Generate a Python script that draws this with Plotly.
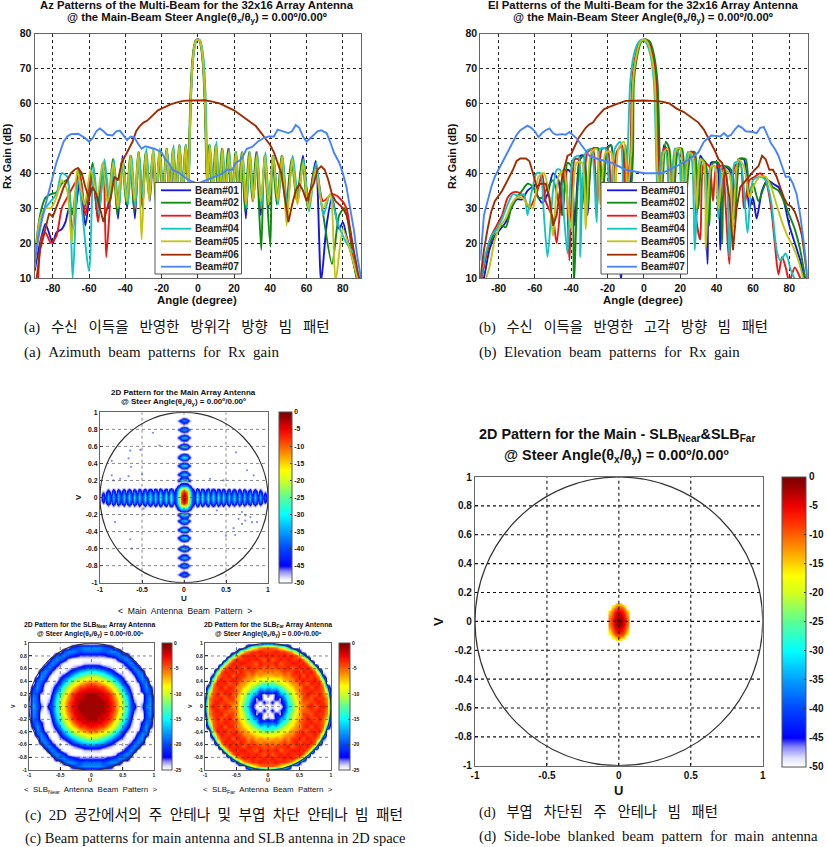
import numpy as np
import plotly.graph_objects as go

W, H = 827, 847

beam_names = ["Beam#01", "Beam#02", "Beam#03", "Beam#04", "Beam#05", "Beam#06", "Beam#07"]
beam_colors = ["#1414e6", "#0c8c0c", "#f01414", "#12c4c4", "#c4c40c", "#a02c00", "#4684ff"]

# Azimuth cuts
az1_x = [-90,-87,-84,-80,-78,-75,-73,-71,-69,-65,-62,-58,-55,-52,-49,-46.5,-44,-41.5,-39,-37,-34.7,-32.5,-30.5,-28.5,-26.5,-24.5,-22.7,-21,-19,-17,-15.2,-13.5,-11.8,-10,-8.3,-6.5,-5.2,-4.5,-4,-3,-2,-1,0,1,2,3,4,4.5,5.2,6.5,8.3,10,11.8,13.5,15.2,17,19,21,22.7,24.5,26.5,28.5,30.5,32.5,34.7,37,39,41.5,44,46.5,49,52,55,58,61,65,68,71,74,78,80,82,86,90]
az1_y = [12,20,25.5,20,23,24,26,30,24,38,25,40,27,42,30,44,27,45,30,45,27,46,30,46,32,46,30,46,33,47,30,47,34,48,32,48,36,50,60,71,76,78,78.3,78,76,71,60,50,36,48,33,48,30,47,34,47,30,46,32,46,27,46,33,46,28,45,30,45,32,45,30,44,33,45,32,43.5,9,25,33,24,26,22,14,5]
az2_x = [-90,-87,-84,-81,-78,-75,-72,-69.4,-65.4,-62.4,-58,-55.4,-52.4,-49.4,-46.9,-44.4,-41.9,-39.4,-37.4,-35.1,-32.9,-30.9,-28.9,-26.9,-24.9,-23.1,-21.4,-19.4,-17.4,-15.6,-13.9,-12.2,-10.4,-8.7,-6.9,-5.4,-4.7,-4.2,-3.2,-2.2,-1.2,-0.2,0.8,1.8,2.8,3.8,4.3,5,6.1,7.9,9.6,11.4,13.1,14.8,16.6,18.6,20.6,22.3,24.1,26.1,28.1,30.1,32.1,35,36.6,40,41.1,43.6,46.1,48.6,51.6,54.6,57.6,60.6,64.6,68.6,74,78,81,86,90]
az2_y = [16,28,33,34,34.5,37,38,28,41,30,43,29,43,31,44,28,44,31,45,29,46,31,46,33,46,31,46,34,47,32,47,33,48,33,48,37,50,60,71,76,78,78.2,78,76,71,60,50,37,48,32,48,31,47,33,47,31,46,33,46,29,46,32,46,18,45,19,45,31,45,30,44,32,44,30,42,30,14,28,30,14,4]
az3_x = [-88,-86,-84,-81,-78,-75,-72,-69,-65,-62,-58,-55,-52,-50.5,-46.6,-44,-41.6,-39,-37,-34.8,-32.6,-30.6,-28.6,-26.6,-24.6,-22.8,-21.1,-19.1,-17.1,-15.3,-13.6,-11.9,-10.1,-8.4,-6.6,-5.1,-4.4,-3.9,-2.9,-1.9,-0.9,0.1,1.1,2.1,3.1,4.1,4.6,5.3,6.6,8.4,10.1,11.9,13.6,15.3,17.1,19.1,21.1,22.8,24.6,26.6,28.6,30.6,32.6,34.8,37.1,39.1,41.6,44.1,46.6,49.1,52.1,55.1,58.1,61.1,65.1,69.1,74,78,82,86,90]
az3_y = [10,22,23,20,22,30,33,36,39,28,40,26,42,16,43,30,44,33,45,30,46,32,46,34,46,33,46,33,47,34,47,33,48,35,48,37,50,60,71,76,78,78.3,78,76,71,60,50,37,48,34,48,33,47,32,47,33,46,31,46,30,46,32,46,30,45,31,45,32,45,30,44,32,43,31,42,32,34,33,30,15,5]
az4_x = [-90,-87,-84,-81,-78,-75,-72,-69,-66,-60,-57.5,-54.5,-51.5,-48.5,-46.4,-43.5,-41.4,-38.5,-36.5,-34.5,-32.4,-30.4,-28.4,-26.4,-24.4,-22.6,-20.9,-18.9,-16.9,-15.1,-13.4,-11.7,-9.9,-8.2,-6.4,-4.9,-4.2,-3.7,-2.7,-1.7,-0.7,0.3,1.3,2.3,3.3,4.3,4.8,5.5,6.8,8.6,10.3,12.1,13.8,15.5,17.3,19.3,21.3,23,24.8,26.8,28.8,30.8,32.8,35,37.3,39.3,41.8,44.3,46.8,49.3,52.3,55.3,58.3,61.3,65.3,69.3,73,77,82,86,90]
az4_y = [14,24,30,32,34,40,39,10,38,12,42,28,44,31,44,30,44,31,45,30,46,33,47,35,47,33,47,34,47,33,48,34,48,35,48,38,52,62,72,76,78,78.2,78,76,72,62,52,38,48,35,49,33,47,34,47,32,46,31,46,30,46,33,46,30,46,32,45,31,45,30,45,33,44,29,43,28,34,26,20,17,6]
az5_x = [-90,-87,-84,-81,-78,-75,-72,-69.5,-66.5,-62.5,-59,-55.5,-52.5,-49.5,-46.7,-44.2,-41.7,-39.2,-37.2,-34.9,-32.7,-31,-28.7,-26.7,-24.7,-22.9,-21.2,-19.2,-17.2,-15.4,-13.7,-12,-10.2,-8.5,-6.7,-5.2,-4.5,-4,-3,-2,-1,0,1,2,3,4,4.5,5.2,6.5,8.3,10,11.8,13.5,15.2,17,19,21,22.7,24.5,26.5,28.5,30.5,32.5,34.7,37,39,41.5,44,46.5,49,52,55,58,61,65,69,73,76,80,85,90]
az5_y = [13,27,30,30,33,38,35,20,41,31,41,33,43,31,43,30,44,32,45,32,46,21,46,32,47,32,47,33,47,32,47,33,48,33,48,36,50,60,71,76,78,78.2,78,76,71,60,50,36,48,33,48,32,47,33,46,33,46,31,46,31,46,32,45,32,45,31,45,32,45,25,44,31,43,30,41,30,34,9,24,16,6]
az6_x = [-90,-87,-85,-82,-80,-78,-76,-74,-72,-70,-68,-66,-64,-62,-60,-58,-56,-54,-52,-50,-48,-46,-44,-42,-40,-38,-36,-34,-32,-30,-28,-26,-24,-22,-20,-18,-15,-12,-8,-4,0,4,8,12,16,20,24,28,32,35,38,40,42,44,46,48,50,52,54,56,58,60,62,64,66,68,70,72,74,76,78,80,82,84,86,88,90]
az6_y = [5,18,22,28.5,27.5,30,33,36,38,40,41,41.5,40,36,33,36,34,30,26,30,33,39,38,43,45,47,49,52,53.5,54.5,55,56,57,58,58.5,59,59.7,60.2,60.7,60.8,60.8,60.9,60.5,60,59,58,56.5,55,53.5,51.5,49.5,48,46,43,40,33,26,31,35,37,35,32,35,37,41,42,41,38,34,32,31,30,28,24,18,12,8]
az7_x = [-90,-88,-86,-84,-82,-80,-78,-76,-74,-72,-70,-66,-62,-60,-58,-56,-54,-52,-50,-47,-45,-43,-41,-39,-37,-35,-33,-31,-29,-27,-24,-20,-18,-16,-14,-10,-5,0,5,10,14,16,19,21,24,27,30,33,36,39,42,44,47,50,52,54,56,58,60,62,64,66,68,71,73,75,78,80,82,84,86,88,90]
az7_y = [14,22,27,31,35,39,43,46,49,50.5,51.2,51.3,50,49,50,52,52.8,52,51,50.8,52,52.2,51,49.5,50.5,50.3,48.5,47,47.7,47.5,47,46,44,43,41,40,38,37,38,39,40,41,41,43,44,47,47.5,49,50,50.5,50.5,52.5,52,51.5,52,53.8,53,50.5,49,50,51,52,52.3,51.5,49,46,43,40,36,30,24,16,10]

# Elevation cuts
el1_x = [-90,-88,-85,-82,-79,-76,-73,-70,-67,-64,-61,-58,-56,-53,-50,-47,-45,-42,-40,-38,-35,-33,-31,-28,-25,-23,-20,-18,-16,-12.5,-10,-8.5,-7,-6,-4,-2,0.5,3,5,7,8.5,9.5,11,13,15,18,20,22,25,27,29,31,33,35,37,40,42,44,47,49,52,55,58,60,62,65,68,71,74,77,80,83,86,90]
el1_y = [6,10,18,22,24,26,30,32.5,32.5,35,36,33,31.5,34,40,38,28,41,40,25,45,45,28,47,47,30,47.5,48,32,9,47,30,45,66,74,77.5,78.3,77.5,74,66,40,30,48,46,28,46,47,30,46,46,28,45,43,14,43,43,18,42,41,25,44,44,30,33,27,35,38,37,36,32,25,20,15,5]
el2_x = [-90,-87,-84,-81,-78,-76,-73,-70,-67,-64,-61,-58,-56,-53,-50,-47,-45,-42,-40,-38.5,-35,-33,-31,-28,-25,-23,-20,-18,-16,-13,-10,-8,-6,-5.5,-3.5,-1.5,1,3.5,5.5,7.5,9,10,12,14,16,19,21,23,26,28,30,32,34,36,38,41,43,45,48,50,53,56,58,60,63,66,68,71,74,77,80,83,86,90]
el2_y = [8,16,21,24,25,24.5,30,33,35,37,36,33,33,36,38,32,28,43,42,8,44,45,30,47,47,33,47,48,26,30,48,30,45,66,74,77.5,78.3,77.5,74,66,40,34,49,47,28,47,47,32,46,46,30,44,43,25,43,43,20,42,41,27,44,44,34,37,32,36,38,36,35,32,28,24,18,6]
el3_x = [-90,-87,-84,-81,-78,-75,-72,-69,-66,-63,-60,-58,-56,-54,-50,-48,-45,-43,-41,-38,-36,-34,-31,-28,-26,-23,-20,-18,-15,-12,-10,-7.5,-6.5,-4.5,-2.5,0,2.5,4.5,6.5,8,9,11,13,15,18,20,22,25,27,29,31,33,36,38,40,43,45,47,50,53,55,58,61,64,67,70,72,74,76,78,80,83,86,90]
el3_y = [8,16,22,25,28,33,34.5,34.5,33,30,33,36,40,32,27,20,36,41,15,44,44,30,46,47,29,47,47,31,46,48,34,45,66,74,77.5,78.3,77.5,74,66,40,32,47,47,30,47,47,30,46,46,26,21,43,42,32,42,42,30,14,42,43,30,38,39,40,38,30,20,11,16,13,9,13,10,3]
el4_x = [-90,-87,-84,-81,-78,-75,-72,-69,-66,-64,-62,-59,-57,-55,-53,-50,-48,-46,-44,-42,-39,-36,-35,-32,-29,-26,-24,-21,-19,-16,-13,-11,-9,-7.5,-5.5,-3,-1,1,3.5,5.5,7,8,10,12,14,17,19,21,24,26,28,31,33,35,37,39,41,43,45,47,50,53,57,60,64,67,70,73,75,78,81,84,87,90]
el4_y = [9,17,22,24,27,31,34,33.5,34,28,34,40,40,28,16,35,41,41,28,17,44,45,16,46,47,26,47,47,24,47,49,28,45,66,74,77.5,78.3,77.5,74,66,40,30,46,46,26,47,46,29,46,45,18,44,43,29,42,42,27,42,41,16,43,43,23,38,39,38,32,18,15,17,12,9,8,3]
el5_x = [-88,-85,-82,-79,-76,-73,-70,-67,-64,-61,-58,-55,-52,-50,-47,-44,-42,-40,-37,-34,-32,-29,-26,-24,-21,-18,-16,-14,-11,-9,-7,-6,-4,-2,0,2,4,6,7.5,9,11,13,15,18,20,22,25,27,29,31,33,34,37,39,41,44,47,48.5,52,55,58,60,64,67,70,73,76,79,82,85,88,90]
el5_y = [8,13,21,25,27,31,33,33,31,30,39,40,33,22,39,41,32,24,43,43,24,46,47,31,46,46,30,47,49,35,46,66,74,77.5,78.3,77.5,74,66,40,33,46,47,30,47,47,32,46,45,30,44,43,18,42,42,30,41,40,22,44,42,33,36,39,39,36,31,26,22,19,15,9,4]
el6_x = [-90,-88,-86,-84,-82,-80,-78,-76,-74,-72,-70,-68,-65,-63,-61,-59,-57,-54,-52,-50,-48,-46,-44,-42,-40,-38,-36,-34,-32,-30,-28,-26,-24,-22,-20,-17,-14,-10,-5,0,5,10,14,18,22,26,30,33,35,37,39,41,43,45,47,49,51,53,56,59,61,63,65,67,69,71,73,75,77,79,81,83,85,87,89,90]
el6_y = [10,18,24,29,32,33.5,35,37,39,41,43.5,44.2,44.2,43.5,40,36,37,37,33,25,28,36,41,45,45.5,48,50,51.5,53,54,54.5,56,57,58.3,58.8,59.3,60,60.7,60.8,60.8,60.7,60.5,60,58.5,57.5,56,54.5,52.5,50.5,48.5,46.5,44,43,40,33,18,30,36,38,40,41,42,45,44,41,41,39,36,33,31,30.5,29,26,22,14,10]
el7_x = [-90,-88,-86,-84,-82,-80,-78,-76,-74,-72,-70,-68,-66,-64,-62,-60,-58,-56,-54,-52,-50,-48,-45,-43,-41,-39,-37,-35,-33,-30,-25,-18,-10,0,10,18,25,30,33,35,37,40,42,44,46,48,50,52,54,56,58,60,62,64,66,68,70,72,74,76,78,80,82,84,86,88,90]
el7_y = [15,28,32,36,39,41,43,45,47,49,51,52.3,53,53.6,53,52,50.3,51.5,52.3,52.8,51.5,51,51.2,51,51.8,51,50,48.5,47,45,44,43,41,40,40,42,44,46,49,50,50.8,50.7,50.5,51.5,50.5,51,52.5,53.6,53,52,52,51.8,51.5,53,53.2,51,48.5,47,45,42,39,39,37,34,28,20,10]

angle_ticks = [-80, -60, -40, -20, 0, 20, 40, 60, 80]
angle_labels = ["-80", "-60", "-40", "-20", "0", "20", "40", "60", "80"]
gain_ticks = [10, 20, 30, 40, 50, 60, 70, 80]
uv_u_ticks = [-1, -0.5, 0, 0.5, 1]
uv_u_labels = ["-1", "-0.5", "0", "0.5", "1"]
uv_v_ticks = [-1, -0.8, -0.6, -0.4, -0.2, 0, 0.2, 0.4, 0.6, 0.8, 1]
uv_v_labels = ["-1", "-0.8", "-0.6", "-0.4", "-0.2", "0", "0.2", "0.4", "0.6", "0.8", "1"]

# 2D maps: first quadrant, cells 1/16 wide, u across and v down the rows
near_quadrant = [
    [-1,-1,-1,-1,-2,-3,-5,-8,-11,-15,-20,-21,-25,-23,-19,-17,-25],
    [-1,-1,-1,-1,-2,-3,-5,-8,-11,-15,-20,-23,-25,-24,-20,-18,-25],
    [-1,-1,-1,-2,-2,-4,-6,-9,-12,-16,-21,-24,-25,-25,-20,-18,-25],
    [-1,-1,-2,-2,-3,-4,-7,-10,-13,-17,-22,-25,-25,-25,-20,-19,-25],
    [-2,-2,-2,-3,-4,-6,-9,-11,-15,-19,-23,-25,-25,-22,-19,-20,-25],
    [-3,-3,-4,-4,-6,-8,-10,-13,-17,-21,-24,-25,-25,-21,-18,-21,-25],
    [-5,-5,-6,-7,-9,-10,-13,-16,-20,-23,-25,-25,-24,-20,-18,-25,-25],
    [-8,-8,-9,-10,-11,-13,-16,-19,-22,-25,-25,-25,-21,-18,-20,-25,-25],
    [-11,-11,-12,-13,-15,-17,-20,-22,-24,-25,-25,-23,-19,-18,-25,-25,-25],
    [-15,-15,-16,-17,-19,-21,-23,-25,-25,-25,-23,-20,-18,-20,-25,-25,-25],
    [-20,-20,-21,-22,-23,-24,-25,-25,-25,-23,-20,-18,-20,-25,-25,-25,-25],
    [-24,-24,-24,-25,-25,-25,-25,-25,-23,-20,-18,-20,-25,-25,-25,-25,-25],
    [-25,-25,-25,-25,-25,-25,-24,-21,-19,-18,-20,-25,-25,-25,-25,-25,-25],
    [-23,-23,-23,-23,-22,-21,-20,-18,-19,-20,-25,-25,-25,-25,-25,-25,-25],
    [-19,-19,-19,-20,-19,-18,-18,-20,-25,-25,-25,-25,-25,-25,-25,-25,-25],
    [-18,-18,-18,-19,-20,-21,-25,-25,-25,-25,-25,-25,-25,-25,-25,-25,-25],
    [-25,-25,-25,-25,-25,-25,-25,-25,-25,-25,-25,-25,-25,-25,-25,-25,-25],
]
far_quadrant = [
    [-25,-25,-25,-25,-22,-16,-13,-9,-7,-6,-4,-3,-5,-4,-3,-5,-20],
    [-25,-22,-25,-23,-21,-15,-12,-9,-6,-5,-5,-4,-4,-3,-4,-6,-20],
    [-25,-25,-21,-24,-18,-14,-11,-8,-7,-4,-4,-5,-3,-4,-4,-6,-25],
    [-23,-25,-22,-18,-16,-13,-10,-8,-6,-5,-3,-4,-5,-3,-5,-8,-25],
    [-20,-19,-21,-16,-14,-11,-9,-7,-5,-4,-4,-3,-4,-4,-5,-10,-25],
    [-17,-15,-16,-13,-11,-9,-8,-6,-6,-4,-3,-5,-3,-4,-5,-16,-25],
    [-12,-13,-11,-10,-9,-8,-6,-6,-4,-4,-5,-3,-4,-3,-7,-25,-25],
    [-9,-9,-9,-8,-7,-6,-6,-4,-4,-3,-4,-4,-3,-5,-12,-25,-25],
    [-7,-7,-6,-7,-5,-6,-4,-4,-3,-5,-3,-4,-4,-7,-22,-25,-25],
    [-6,-5,-6,-5,-4,-5,-4,-3,-5,-3,-4,-3,-5,-14,-25,-25,-25],
    [-4,-5,-4,-4,-4,-3,-5,-4,-3,-4,-3,-5,-10,-25,-25,-25,-25],
    [-4,-4,-3,-5,-4,-4,-3,-3,-4,-3,-5,-10,-25,-25,-25,-25,-25],
    [-3,-5,-4,-3,-4,-3,-4,-4,-3,-5,-10,-25,-25,-25,-25,-25,-25],
    [-4,-3,-4,-4,-3,-4,-3,-5,-7,-14,-25,-25,-25,-25,-25,-25,-25],
    [-4,-4,-3,-4,-4,-5,-7,-12,-22,-25,-25,-25,-25,-25,-25,-25,-25],
    [-5,-5,-6,-8,-10,-16,-25,-25,-25,-25,-25,-25,-25,-25,-25,-25,-25],
    [-20,-20,-25,-25,-25,-25,-25,-25,-25,-25,-25,-25,-25,-25,-25,-25,-25],
]
near_cells = [0, 0.0625, 0.125, 0.1875, 0.25, 0.3125, 0.375, 0.4375, 0.5, 0.5625, 0.625, 0.6875, 0.75, 0.8125, 0.875, 0.9375, 1]

# main array: horizontal strip of lobes (u cells 1/32, rows upward from v=0)
main_h_u = [i / 32 for i in range(33)]
main_h_v = [0, 0.031, 0.0625, 0.094, 0.125, 0.156, 0.188]
main_h_quadrant = [
    [-1,-8,-22,-38,-43,-27,-42,-29,-42,-29,-42,-30,-42,-30,-42,-30,-42,-31,-42,-31,-43,-31,-43,-31,-43,-32,-43,-32,-44,-33,-45,-38,-50],
    [-2,-9,-23,-39,-44,-29,-43,-31,-43,-31,-43,-32,-43,-32,-43,-32,-43,-33,-43,-33,-44,-33,-44,-33,-44,-34,-44,-34,-45,-35,-46,-41,-50],
    [-6,-11,-25,-40,-45,-34,-45,-35,-45,-35,-45,-36,-45,-36,-45,-36,-46,-37,-46,-37,-46,-37,-46,-37,-46,-38,-47,-38,-47,-40,-48,-46,-50],
    [-14,-18,-30,-43,-48,-41,-48,-42,-48,-42,-48,-42,-48,-43,-48,-43,-49,-43,-49,-44,-49,-44,-49,-44,-49,-45,-49,-45,-50,-46,-50,-50,-50],
    [-28,-30,-38,-47,-50,-49,-50,-50,-50,-49,-50,-50,-50,-50,-50,-50,-50,-50,-50,-50,-50,-50,-50,-50,-50,-50,-50,-50,-50,-50,-50,-50,-50],
    [-42,-43,-47,-50,-50,-50,-50,-50,-50,-50,-50,-50,-50,-50,-50,-50,-50,-50,-50,-50,-50,-50,-50,-50,-50,-50,-50,-50,-50,-50,-50,-50,-50],
    [-50,-50,-50,-50,-50,-50,-50,-50,-50,-50,-50,-50,-50,-50,-50,-50,-50,-50,-50,-50,-50,-50,-50,-50,-50,-50,-50,-50,-50,-50,-50,-50,-50],
]
# main array: vertical strip of lobes
main_v_u = [0, 0.031, 0.0625, 0.094]
main_v_v = [0.15,0.175,0.2,0.225,0.25,0.275,0.3,0.325,0.35,0.375,0.4,0.425,0.45,0.475,0.5,0.525,0.55,0.575,0.6,0.625,0.65,0.675,0.7,0.725,0.75,0.775,0.8,0.825,0.85,0.875,0.9,0.925,0.95]
main_v_quadrant = [
    [-50,-50,-50,-50],[-38,-40,-47,-50],[-27,-30,-40,-50],[-38,-40,-47,-50],[-42,-44,-49,-50],
    [-30,-33,-42,-50],[-42,-44,-49,-50],[-49,-49,-50,-50],[-40,-42,-48,-50],[-29,-32,-42,-50],
    [-40,-42,-48,-50],[-49,-49,-50,-50],[-40,-42,-48,-50],[-29,-32,-42,-50],[-40,-42,-48,-50],
    [-49,-50,-50,-50],[-49,-50,-50,-50],[-40,-42,-48,-50],[-30,-33,-42,-50],[-40,-42,-48,-50],
    [-49,-50,-50,-50],[-41,-43,-48,-50],[-31,-34,-43,-50],[-41,-43,-48,-50],[-49,-50,-50,-50],
    [-42,-44,-49,-50],[-33,-36,-44,-50],[-42,-44,-49,-50],[-50,-50,-50,-50],[-43,-45,-49,-50],
    [-35,-38,-45,-50],[-44,-46,-50,-50],[-50,-50,-50,-50],
]
speck_u = [-0.86,-0.64,-0.52,-0.66,-0.86,-0.66,-0.5,-0.29,-0.37,-0.63,0.62,0.75,0.83,0.47,0.31,-0.84,-0.76,0.69,0.73,0.79,0.65,0.73,0.81,0.69,0.87,0.59,0.61,0.5,-0.64,-0.62,-0.82,-0.48,0.39]
speck_v = [0.43,0.55,0.56,0.46,0.26,0.25,0.27,0.61,0.76,0.36,0.53,0.32,0.26,0.2,0.22,0.2,0.22,-0.17,-0.21,-0.23,-0.25,-0.27,-0.29,-0.31,-0.29,-0.36,-0.44,-0.45,-0.49,-0.6,-0.29,-0.13,-0.15]

# blanked pattern: only the central blob survives (u cells and v rows 1/64)
blank_u = [0, 0.0156, 0.0312, 0.0469, 0.0625, 0.0781]
blank_v = [0, 0.0156, 0.0312, 0.0469, 0.0625, 0.0781, 0.0938, 0.1094, 0.125, 0.1406]
blank_quadrant = [
    [-1,-2,-4,-7,-11,None],
    [-1,-2,-4,-7,-11,None],
    [-2,-3,-5,-8,-12,None],
    [-3,-4,-6,-9,-13,None],
    [-5,-5,-7,-10,-15,None],
    [-6,-7,-9,-12,-17,None],
    [-9,-9,-11,-15,None,None],
    [-11,-12,-15,-18,None,None],
    [-15,-16,None,None,None,None],
    [None,None,None,None,None,None],
]

FONT = "Liberation Sans, Arial, sans-serif"
SERIF = "Liberation Serif, Noto Sans CJK KR, serif"
GAP = "\u00a0"
JET = [
    [0, "rgb(255,255,255)"], [0.03, "rgb(225,225,255)"], [0.07, "rgb(130,130,255)"], [0.1, "rgb(0,0,255)"],
    [0.2, "rgb(0,70,255)"], [0.3, "rgb(0,160,255)"], [0.4, "rgb(0,255,255)"], [0.5, "rgb(90,255,150)"],
    [0.6, "rgb(210,255,30)"], [0.66, "rgb(255,255,0)"], [0.75, "rgb(255,150,0)"], [0.85, "rgb(255,40,0)"],
    [0.9, "rgb(240,0,0)"], [0.97, "rgb(150,0,0)"], [1, "rgb(125,0,0)"],
]
JET_CLEAR = [[0, "rgba(255,255,255,0)"]] + JET[1:]


def mirror(u, v, quadrant):
    # the maps are close to symmetric, so one quadrant is read and reflected
    q = np.array(quadrant, dtype=float)
    full = np.vstack([q[:0:-1], q])
    full = np.hstack([full[:, :0:-1], full])
    return [-a for a in u[:0:-1]] + list(u), [-a for a in v[:0:-1]] + list(v), full


fig = go.Figure()


def add_box(n, left, right, top, bottom, xticks, xlabels, yticks, ylabels, xr, yr, size, grid=True):
    ax = dict(showline=True, mirror=True, linecolor="#666", linewidth=1.2, ticks="inside", ticklen=2.5,
              tickcolor="#333", zeroline=False, tickmode="array",
              tickfont=dict(family=FONT, size=size, color="#111", weight="bold"))
    gr = dict(showgrid=grid, gridcolor="#222", griddash="dot", gridwidth=1)
    name = "" if n == 1 else str(n)
    fig.update_layout(**{
        "xaxis" + name: dict(ax, **gr, domain=[left / W, right / W], anchor="y" + name, range=xr,
                             tickvals=xticks, ticktext=xlabels),
        "yaxis" + name: dict(ax, **gr, domain=[1 - bottom / H, 1 - top / H], anchor="x" + name, range=yr,
                             tickvals=yticks, ticktext=ylabels),
    })


def text(x, y, s, size, bold=False, family=FONT, anchor="center", angle=0, color="#111"):
    if bold:
        s = "<b>" + s + "</b>"
    fig.add_annotation(xref="paper", yref="paper", x=x / W, y=1 - y / H, text=s, showarrow=False, xanchor=anchor,
                       yanchor="middle", textangle=angle, font=dict(family=family, size=size, color=color))


def caption(x, y, s, size, extra=0):
    # the caption words are set with wide gaps in the reference
    text(x, y, s.replace(" ", " " + GAP * extra), size, family=SERIF, anchor="left")


def cut_panel(n, left, right, top, bottom, cuts, legend_left):
    add_box(n, left, right, top, bottom, angle_ticks, angle_labels, gain_ticks, [str(t) for t in gain_ticks],
            [-90, 90], [10, 80], 10.5)
    name = "" if n == 1 else str(n)
    for i, (xs, ys) in enumerate(cuts):
        fig.add_trace(go.Scatter(x=xs, y=ys, mode="lines", name=beam_names[i], xaxis="x" + name, yaxis="y" + name,
                                 showlegend=False, line=dict(color=beam_colors[i], width=1.9,
                                                             shape="spline" if i < 5 else "linear", smoothing=0.7)))
    # the legend sits in pixels; plotly's own one cannot pack rows this tightly
    fig.add_shape(type="rect", xref="paper", yref="paper", layer="above", x0=legend_left / W, x1=(legend_left + 86.5) / W,
                  y0=1 - 274 / H, y1=1 - 182.5 / H, fillcolor="white", line=dict(color="#555", width=1))
    for i, row in enumerate([190.3, 202.7, 215.7, 228.7, 241.3, 254.7, 266.7]):
        fig.add_shape(type="line", xref="paper", yref="paper", layer="above", x0=(legend_left + 6) / W, x1=(legend_left + 36) / W,
                      y0=1 - row / H, y1=1 - row / H, line=dict(color=beam_colors[i], width=1.8))
        text(legend_left + 38, row, beam_names[i], 10, True, anchor="left", color="#222")


def uv_grid(n, color, width):
    name = "" if n == 1 else str(n)
    for t in uv_u_ticks[1:-1]:
        fig.add_shape(type="line", xref="x" + name, yref="y" + name, x0=t, x1=t, y0=-1, y1=1, layer="above",
                      line=dict(color=color, width=width, dash="dot"))
    for t in uv_v_ticks[1:-1]:
        fig.add_shape(type="line", xref="x" + name, yref="y" + name, x0=-1, x1=1, y0=t, y1=t, layer="above",
                      line=dict(color=color, width=width, dash="dot"))
    fig.add_shape(type="circle", xref="x" + name, yref="y" + name, x0=-1, x1=1, y0=-1, y1=1, layer="above",
                  line=dict(color="#333", width=1.2))


def colorbar(left, thick, top, bottom, ticks, size):
    return dict(x=left / W, xanchor="left", xpad=0, ypad=0, y=1 - bottom / H, yanchor="bottom",
                len=(bottom - top) / H, lenmode="fraction", thickness=thick, thicknessmode="pixels",
                outlinecolor="#555", outlinewidth=1, ticks="inside", ticklen=2, tickcolor="#333",
                tickmode="array", tickvals=ticks, ticktext=[str(t) for t in ticks], ticklabelposition="outside",
                tickfont=dict(family=FONT, size=size, color="#111", weight="bold"))


# panels (a) and (b)
cut_panel(1, 34.6, 361, 33.5, 278, [(az1_x, az1_y), (az2_x, az2_y), (az3_x, az3_y), (az4_x, az4_y),
                                    (az5_x, az5_y), (az6_x, az6_y), (az7_x, az7_y)], 155)
cut_panel(2, 480.3, 807.5, 33.5, 278, [(el1_x, el1_y), (el2_x, el2_y), (el3_x, el3_y), (el4_x, el4_y),
                                       (el5_x, el5_y), (el6_x, el6_y), (el7_x, el7_y)], 601)

# main array map
add_box(3, 100, 268, 412.3, 582.7, uv_u_ticks, uv_u_labels, uv_v_ticks, uv_v_labels, [-1, 1], [-1, 1], 6.8, grid=False)
vu, vv, vz = mirror(main_v_u, [0] + main_v_v, [[-50, -50, -50, -50]] + main_v_quadrant)
fig.add_trace(go.Heatmap(x=vu, y=vv, z=vz, xaxis="x3", yaxis="y3", zmin=-50, zmax=0, colorscale=JET_CLEAR, zsmooth="best", showscale=False))
hu, hv, hz = mirror(main_h_u, main_h_v, main_h_quadrant)
fig.add_trace(go.Heatmap(x=hu, y=hv, z=hz, xaxis="x3", yaxis="y3", zmin=-50, zmax=0, colorscale=JET_CLEAR, zsmooth="best",
                         colorbar=colorbar(279, 13, 412.3, 583, [0, -5, -10, -15, -20, -25, -30, -35, -40, -45, -50], 6.8)))
fig.add_trace(go.Scatter(x=speck_u, y=speck_v, mode="markers", xaxis="x3", yaxis="y3", showlegend=False,
                         marker=dict(size=2.2, color="#3050f0", opacity=0.65)))
uv_grid(3, "#555", 0.7)

# SLB near and far maps
near_u, near_v, near_z = mirror(near_cells, near_cells, near_quadrant)
add_box(4, 29, 154, 643.3, 770, uv_u_ticks, uv_u_labels, uv_v_ticks, uv_v_labels, [-1, 1], [-1, 1], 5, grid=False)
fig.add_trace(go.Heatmap(x=near_u, y=near_v, z=near_z, xaxis="x4", yaxis="y4", zmin=-25, zmax=0, colorscale=JET, zsmooth="best",
                         colorbar=colorbar(162, 10, 643.3, 770, [0, -5, -10, -15, -20, -25], 5)))
uv_grid(4, "#333", 0.6)

far_u, far_v, far_z = mirror(near_cells, near_cells, far_quadrant)
add_box(5, 205, 331, 643.3, 770, uv_u_ticks, uv_u_labels, uv_v_ticks, uv_v_labels, [-1, 1], [-1, 1], 5, grid=False)
fig.add_trace(go.Heatmap(x=far_u, y=far_v, z=far_z, xaxis="x5", yaxis="y5", zmin=-25, zmax=0, colorscale=JET, zsmooth="best",
                         colorbar=colorbar(339, 10.5, 643.3, 770, [0, -5, -10, -15, -20, -25], 5)))
uv_grid(5, "#333", 0.6)

# blanked map
add_box(6, 475, 762.7, 477, 765.7, uv_u_ticks, uv_u_labels, uv_v_ticks, uv_v_labels, [-1, 1], [-1, 1], 10, grid=False)
bu, bv, bz = mirror(blank_u, blank_v, blank_quadrant)
fig.add_trace(go.Heatmap(x=bu, y=bv, z=bz, xaxis="x6", yaxis="y6", zmin=-50, zmax=0, colorscale=JET, zsmooth="best",
                         colorbar=colorbar(782, 24, 477, 766.7, [0, -5, -10, -15, -20, -25, -30, -35, -40, -45, -50], 10)))
uv_grid(6, "#111", 1.1)

# titles
steer = "Steer Angle(θ<sub>x</sub>/θ<sub>y</sub>) = 0.00º/0.00º"
text(197, 5, "Az Patterns of the Multi-Beam for the 32x16 Array Antenna", 11.3, True)
text(197, 18, "@ the Main-Beam " + steer, 11.3, True)
text(643, 5, "El Patterns of the Multi-Beam for the 32x16 Array Antenna", 11.3, True)
text(643, 18, "@ the Main-Beam " + steer, 11.3, True)
text(197, 299.5, "Angle (degree)", 11.4, True)
text(643, 299.5, "Angle (degree)", 11.4, True)
text(7, 156, "Rx Gain (dB)", 10.8, True, angle=-90)
text(452, 156, "Rx Gain (dB)", 10.8, True, angle=-90)

text(183, 392, "2D Pattern for the Main Array Antenna", 8, True)
text(183, 402, "@ " + steer, 8, True)
text(184, 598, "U", 8, True)
text(78, 497, "V", 8, True, angle=-90)
text(185, 611, "&lt;  Main  Antenna  Beam  Pattern  &gt;", 8.6)

text(90, 625, "2D Pattern for the SLB<sub>Near</sub> Array Antenna", 6.8, True)
text(90, 634, "@ " + steer, 6.8, True)
text(90, 780, "U", 5.5, True)
text(13, 706, "V", 5.5, True, angle=-90)
text(90, 789.5, "&lt;  SLB<sub>Near</sub>  Antenna  Beam  Pattern  &gt;", 7.9)
text(268, 625, "2D Pattern for the SLB<sub>Far</sub> Array Antenna", 6.8, True)
text(268, 634, "@ " + steer, 6.8, True)
text(268, 780, "U", 5.5, True)
text(190, 706, "V", 5.5, True, angle=-90)
text(268, 789.5, "&lt;  SLB<sub>Far</sub>  Antenna  Beam  Pattern  &gt;", 7.9)

text(617, 435, "2D Pattern for the Main - SLB<sub>Near</sub>&amp;SLB<sub>Far</sub>", 14.4, True)
text(617, 456, "@ " + steer, 14.4, True)
text(618, 790, "U", 13, True)
text(438, 622, "V", 13, True, angle=-90)

# captions
caption(22, 327, "(a) 수신 이득을 반영한 방위각 방향 빔 패턴", 14.5, 2)
caption(22, 352.5, "(a) Azimuth beam patterns for Rx gain", 15, 1)
caption(477, 327, "(b) 수신 이득을 반영한 고각 방향 빔 패턴", 14.3, 2)
caption(477, 352.5, "(b) Elevation beam patterns for Rx gain", 15, 1)
caption(23, 815, "(c) 2D 공간에서의 주 안테나 및 부엽 차단 안테나 빔 패턴", 14.7, 1)
caption(23, 838, "(c) Beam patterns for main antenna and SLB antenna in 2D space", 14.5)
caption(477, 812, "(d) 부엽 차단된 주 안테나 빔 패턴", 14.3, 2)
caption(477, 836, "(d) Side-lobe blanked beam pattern for main antenna", 14.8, 1)

fig.update_layout(width=W, height=H, margin=dict(l=0, r=0, t=0, b=0, autoexpand=False), paper_bgcolor="white",
                  plot_bgcolor="white", showlegend=False)

# the browser's default 8px page margin would push the figure off the window
fig.write_html("out.html", config={"displayModeBar": False},
               post_script="document.body.style.margin='0';document.documentElement.style.overflow='hidden';")
